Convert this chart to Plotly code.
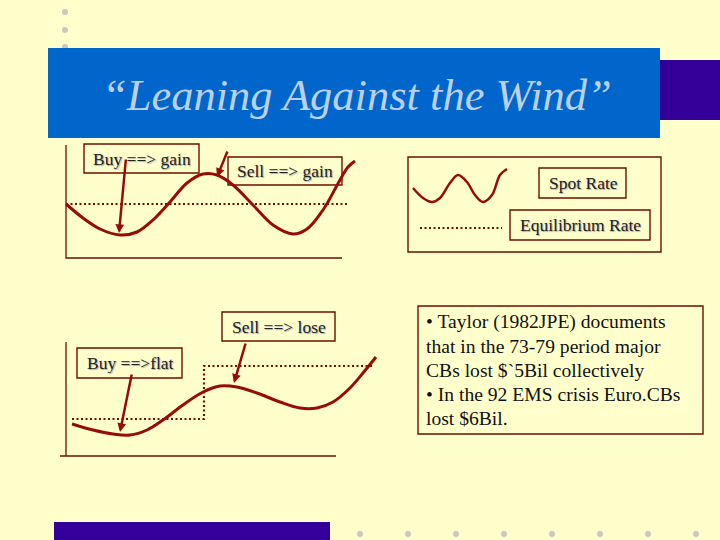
import plotly.graph_objects as go

BG = "#FFFFCC"; BLUE = "#0066CC"; PURPLE = "#330099"; RED = "#960C0C"; EDGE = "#6E0E00"; DOT = "#C8C8BC"
SERIF = "Liberation Serif"

dots_x = [65, 65, 65, 360, 408, 456, 504, 552, 600, 648, 696]
dots_y = [12, 30, 47, 534, 534, 534, 534, 534, 534, 534, 534]

curve1_x = [66, 83, 100, 120, 137, 153, 170, 187, 203, 217, 233, 253, 273, 293, 307, 323, 340, 348, 355]
curve1_y = [204, 218, 229, 235, 232, 220, 202, 183, 174, 175, 185, 205, 225, 234, 229, 210, 180, 167, 161]
eq1_x = [66, 348]
eq1_y = [204, 204]
axes1_x = [66, 66, 342]
axes1_y = [145, 258, 258]

curve2_x = [72, 93, 113, 130, 147, 163, 183, 203, 220, 237, 257, 280, 300, 317, 333, 350, 363, 376]
curve2_y = [424, 430, 434, 435, 430, 420, 405, 392, 386, 387, 393, 402, 408, 408, 402, 388, 373, 357]
eq2_x = [72, 204, 204, 373]
eq2_y = [419, 419, 366, 366]
axes2_x = [66, 66, None, 60, 336]
axes2_y = [342, 456, None, 456, 456]

legend_curve_x = [413, 423, 432, 440, 450, 458, 467, 475, 483, 492, 500, 507]
legend_curve_y = [188, 198, 202, 198, 183, 175, 182, 195, 202, 195, 175, 169]
legend_eq_x = [420, 502]
legend_eq_y = [228, 228]

# tail x, tail y, head x, head y
arrows = [(126, 158, 119, 233), (228, 150, 217, 177), (132, 373, 120, 432), (246, 342, 234, 383)]

# x0, y0, x1, y1 (enclosing frames first, so the inner boxes stay visible)
label_boxes = [(408, 157, 661, 252), (418, 306, 703, 434), (84, 144, 199, 173), (228, 157, 342, 185),
               (539, 168, 626, 198), (510, 210, 650, 240), (222, 312, 335, 341), (77, 348, 182, 378)]
labels = [("Buy ==> gain", 142, 159), ("Sell ==> gain", 285, 171), ("Spot Rate", 583, 183),
          ("Equilibrium Rate", 580, 225), ("Sell ==> lose", 279, 327), ("Buy ==>flat", 130, 363)]
note_lines = ["• Taylor (1982JPE) documents", "that in the 73-79 period major", "CBs lost $`5Bil collectively",
              "• In the 92 EMS crisis Euro.CBs", "lost $6Bil."]
note_y = [322, 346, 370, 394, 418]

fig = go.Figure()
fig.add_trace(go.Scatter(x=dots_x, y=dots_y, mode="markers", marker=dict(color=DOT, size=6), hoverinfo="skip"))
for xs, ys in [(axes1_x, axes1_y), (axes2_x, axes2_y)]:
    fig.add_trace(go.Scatter(x=xs, y=ys, mode="lines", line=dict(color=EDGE, width=1.3), hoverinfo="skip"))
for xs, ys in [(eq1_x, eq1_y), (eq2_x, eq2_y), (legend_eq_x, legend_eq_y)]:
    fig.add_trace(go.Scatter(x=xs, y=ys, mode="lines", line=dict(color=EDGE, width=2.2, dash="2px 2.5px"), hoverinfo="skip"))
for xs, ys, w in [(curve1_x, curve1_y, 3), (curve2_x, curve2_y, 3), (legend_curve_x, legend_curve_y, 2.5)]:
    fig.add_trace(go.Scatter(x=xs, y=ys, mode="lines", line=dict(color=RED, width=w, shape="spline"), hoverinfo="skip"))

shapes = [dict(type="rect", xref="x", yref="y", x0=a, y0=b, x1=c, y1=d, layer="below",
               line=dict(color=EDGE, width=1.4), fillcolor=BG) for a, b, c, d in label_boxes]
shapes += [
    dict(type="rect", xref="x", yref="y", x0=660, y0=60, x1=720, y1=120, layer="above", line_width=0, fillcolor=PURPLE),
    dict(type="rect", xref="x", yref="y", x0=48, y0=48, x1=660, y1=138, layer="above", line_width=0, fillcolor=BLUE),
    dict(type="rect", xref="x", yref="y", x0=54, y0=522, x1=330, y1=540, layer="above", line_width=0, fillcolor=PURPLE),
]

ann = []
for t, x, y in labels:
    ann.append(dict(x=x, y=y, text=t, showarrow=False, xref="x", yref="y",
                    font=dict(family=SERIF, size=17.5, color="#222222", shadow="1px 1px 1px #AAAAAA")))
for t, y in zip(note_lines, note_y):
    ann.append(dict(x=424, y=y, text=t, showarrow=False, xref="x", yref="y", xanchor="left",
                    font=dict(family=SERIF, size=19.6, color="#111111")))
ann.append(dict(x=357, y=95, text="“Leaning Against the Wind”", showarrow=False, xref="x", yref="y",
                font=dict(family=SERIF, size=44.5, color="#BCD0EA", style="italic")))
for x0, y0, x1, y1 in arrows:
    ann.append(dict(x=x1, y=y1, ax=x0, ay=y0, xref="x", yref="y", axref="x", ayref="y", text="",
                    showarrow=True, arrowhead=2, arrowsize=0.7, arrowwidth=2.5, arrowcolor=RED))

fig.update_layout(width=720, height=540, margin=dict(l=0, r=0, t=0, b=0), showlegend=False,
                  paper_bgcolor=BG, plot_bgcolor=BG, shapes=shapes, annotations=ann,
                  xaxis=dict(range=[0, 720], visible=False, fixedrange=True),
                  yaxis=dict(range=[540, 0], visible=False, fixedrange=True))
fig.write_html("out.html", config={"displayModeBar": False},
               post_script="document.body.style.margin='0';document.body.style.background='#FFFFCC';")
